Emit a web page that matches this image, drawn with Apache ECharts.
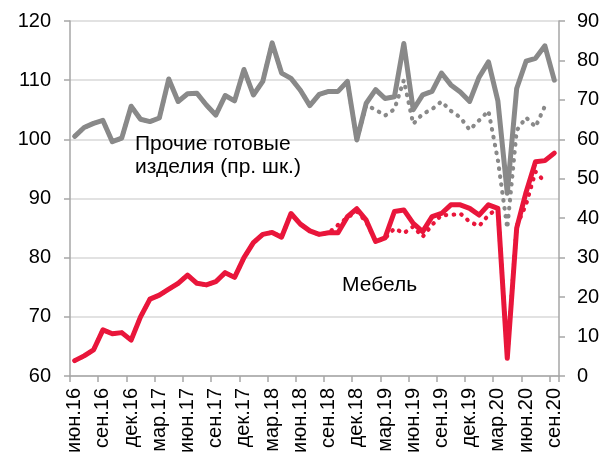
<!DOCTYPE html>
<html><head><meta charset="utf-8">
<script src="https://cdn.jsdelivr.net/npm/echarts@6/dist/echarts.min.js"></script>
<style>html,body{margin:0;padding:0;background:#fff}#c{width:612px;height:461px}</style>
</head><body><div id="c"></div>
<script>
const categories = [
  'июн.16','июл.16','авг.16','сен.16','окт.16','ноя.16','дек.16',
  'янв.17','фев.17','мар.17','апр.17','май.17','июн.17','июл.17','авг.17','сен.17','окт.17','ноя.17','дек.17',
  'янв.18','фев.18','мар.18','апр.18','май.18','июн.18','июл.18','авг.18','сен.18','окт.18','ноя.18','дек.18',
  'янв.19','фев.19','мар.19','апр.19','май.19','июн.19','июл.19','авг.19','сен.19','окт.19','ноя.19','дек.19',
  'янв.20','фев.20','мар.20','апр.20','май.20','июн.20','июл.20','авг.20','сен.20'
];
// Прочие готовые изделия (левая ось)
const otherSolid = [
  100.5,102.0,102.7,103.2,99.6,100.2,105.6,
  103.4,103.0,103.6,110.2,106.4,107.7,107.8,105.8,104.1,107.4,106.5,111.8,
  107.5,109.8,116.3,111.2,110.3,108.3,105.7,107.6,108.1,108.1,109.8,99.9,
  106.1,108.4,106.9,107.2,116.2,105.0,107.5,108.1,111.2,109.2,108.0,106.4,
  110.5,113.1,106.5,90.9,108.6,113.2,113.7,115.8,110.0
];
const otherDotted = [
  100.5,102.0,102.7,103.2,99.6,100.2,105.6,
  103.4,103.0,103.6,110.2,106.4,107.7,107.8,105.8,104.1,107.4,106.5,111.8,
  107.5,109.8,116.3,111.2,110.3,108.3,105.7,107.6,108.1,108.1,109.8,99.9,
  105.8,105.0,104.0,105.1,110.0,102.6,104.3,105.1,106.4,104.8,103.7,101.6,
  103.2,104.8,96.5,85.0,101.5,103.7,102.1,105.6,null
];
// Мебель (правая ось)
const furnSolid = [
  3.9,5.1,6.6,11.7,10.7,11.0,9.1,
  15.0,19.5,20.5,22.0,23.5,25.6,23.5,23.1,23.9,26.2,25.0,30.0,
  33.8,35.9,36.4,35.2,41.2,38.5,36.8,35.9,36.3,36.3,40.4,42.4,
  39.5,34.1,35.0,41.7,42.1,38.7,36.6,40.4,41.2,43.4,43.4,42.5,
  40.8,43.4,42.5,4.5,37.5,46.6,54.3,54.6,56.5
];
const furnDotted = [
  3.9,5.1,6.6,11.7,10.7,11.0,9.1,
  15.0,19.5,20.5,22.0,23.5,25.6,23.5,23.1,23.9,26.2,25.0,30.0,
  33.8,35.9,36.4,35.2,41.2,38.5,36.8,35.9,36.3,38.3,40.2,41.7,
  39.1,34.1,34.9,37.4,36.2,37.9,35.3,38.3,40.8,40.8,41.2,39.1,
  38.0,40.8,42.5,5.0,38.0,43.5,51.8,49.2,null
];
const leftTicks = {min:60, max:120, step:10};
const rightTicks = {min:0, max:90, step:10};

const GRAY = '#898989', RED = '#E9163B';
const FONT = "'Liberation Sans', Arial, sans-serif";
const axisCol = '#a6a6a6';

const chart = echarts.init(document.getElementById('c'), null, {renderer:'canvas'});
chart.setOption({
  animation:false,
  backgroundColor:'#fff',
  grid:{left:70,right:53,top:21,bottom:85,containLabel:false},
  xAxis:{
    type:'category', data:categories, boundaryGap:true,
    axisLine:{show:true,lineStyle:{color:axisCol,width:1.5}},
    axisTick:{show:true,interval:2,length:6,lineStyle:{color:axisCol,width:1.5}},
    axisLabel:{interval:2,rotate:90,margin:12,fontFamily:FONT,fontSize:20,color:'#000'},
    splitLine:{show:false}
  },
  yAxis:[
    {type:'value',min:leftTicks.min,max:leftTicks.max,interval:leftTicks.step,position:'left',
     axisLine:{show:true,lineStyle:{color:axisCol,width:1.5}},
     axisTick:{show:true,length:6,lineStyle:{color:axisCol,width:1.5}},
     axisLabel:{margin:19,fontFamily:FONT,fontSize:20,color:'#000'},
     splitLine:{show:true,lineStyle:{color:'#d9d9d9',width:1.5}}},
    {type:'value',min:rightTicks.min,max:rightTicks.max,interval:rightTicks.step,position:'right',
     axisLine:{show:true,lineStyle:{color:axisCol,width:1.5}},
     axisTick:{show:true,length:6,lineStyle:{color:axisCol,width:1.5}},
     axisLabel:{margin:18,fontFamily:FONT,fontSize:20,color:'#000'},
     splitLine:{show:false}}
  ],
  series:[
    {name:'Прочие готовые изделия',type:'line',yAxisIndex:0,data:otherSolid,symbol:'none',
     lineStyle:{color:GRAY,width:5,cap:'round',join:'round'},z:2},
    {name:'Прочие (пунктир)',type:'line',yAxisIndex:0,data:otherDotted,symbol:'none',
     lineStyle:{color:GRAY,width:4.2,type:[0.5,7.5],cap:'round',join:'round'},z:3},
    {name:'Мебель',type:'line',yAxisIndex:1,data:furnSolid,symbol:'none',
     lineStyle:{color:RED,width:5,cap:'round',join:'round'},z:4},
    {name:'Мебель (пунктир)',type:'line',yAxisIndex:1,data:furnDotted,symbol:'none',
     lineStyle:{color:RED,width:4.2,type:[0.5,7.5],cap:'round',join:'round'},z:5}
  ],
  graphic:[
    {type:'text',left:135,top:133,z:10,style:{text:'Прочие готовые\nизделия (пр. шк.)',font:"21px 'Liberation Sans', Arial, sans-serif",fill:'#000',lineHeight:23}},
    {type:'text',left:342,top:275,z:10,style:{text:'Мебель',font:"21px 'Liberation Sans', Arial, sans-serif",fill:'#000'}}
  ]
});
</script></body></html>
